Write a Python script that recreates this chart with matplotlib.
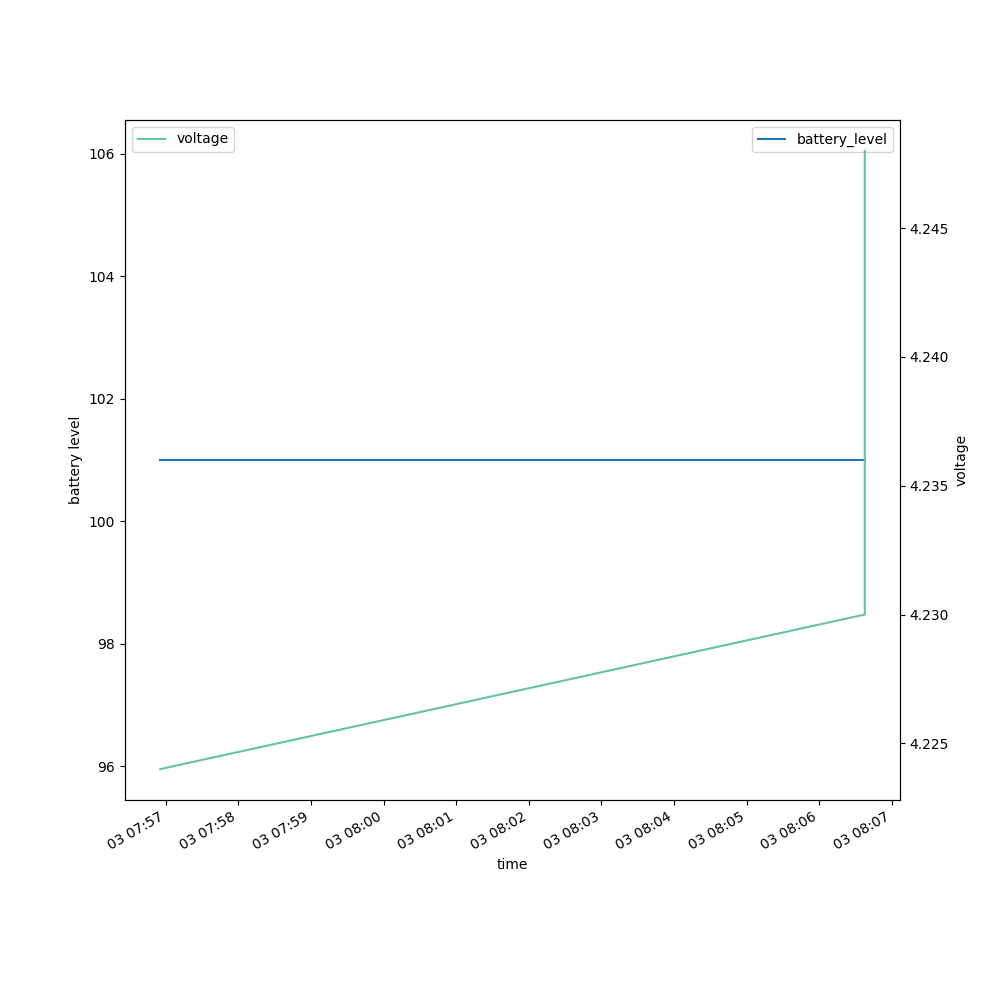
import pandas as pd
import matplotlib
matplotlib.use("Agg")
import matplotlib.pyplot as plt

# readings
times = pd.to_datetime(["2023-05-03 07:56:55.5", "2023-05-03 08:06:37.5", "2023-05-03 08:06:37.5"])
battery_level = [101, 101, 101]
voltage = [4.224, 4.230, 4.248]

fig, ax = plt.subplots(figsize=(10, 10), dpi=100)

ax.plot(times, battery_level, color='#1f77b4', label='battery_level')
ax.set_xlabel('time')
ax.set_ylabel('battery level')
ax.legend(loc='upper right')

ax2 = ax.twinx()
ax2.plot(times, voltage, color='#66c2a5', label='voltage')
ax2.set_ylabel('voltage')
ax2.legend(loc='upper left')

fig.autofmt_xdate()
plt.savefig("out.png")
plt.close()
